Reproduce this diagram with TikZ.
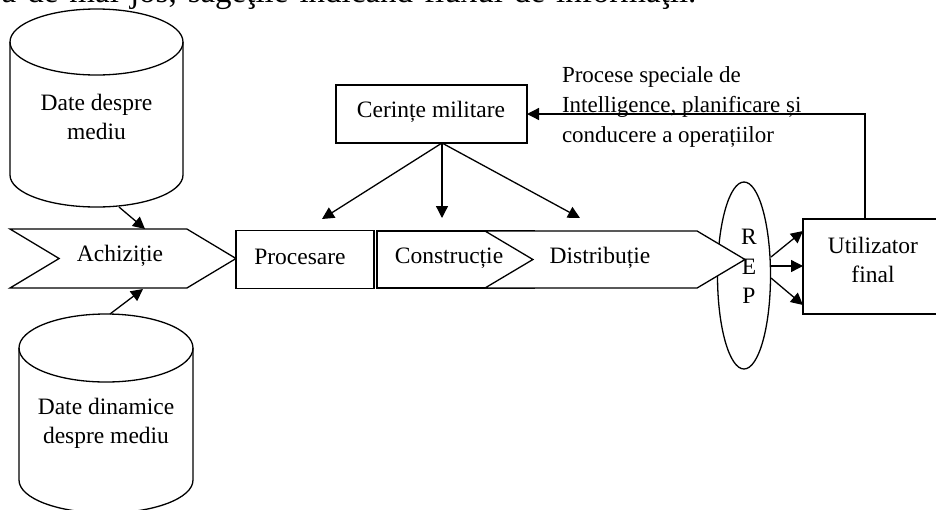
\documentclass[tikz,border=0pt]{standalone}
\usepackage{fontspec}
\setmainfont{Liberation Serif}
\usetikzlibrary{shapes.geometric,shapes.symbols,arrows.meta}
\tikzset{
  x=1pt,y=-1pt,
  lbl/.style={font=\fontsize{23.5}{29}\selectfont,align=center,inner sep=0pt,outer sep=0pt},
  lefttxt/.style={font=\fontsize{23}{30}\selectfont,align=left,inner sep=0pt,outer sep=0pt},
  box/.style={draw,fill=white,inner sep=0pt,outer sep=0pt,anchor=north west},
  cylframe/.style={inner sep=0pt,outer sep=0pt,minimum width=173pt},
  sig/.style={draw,fill=white,shape=signal,signal from=west,signal to=east,signal pointer angle=62,
    minimum height=59pt,inner sep=0pt,outer sep=0pt},
  arr/.style={-{Triangle[length=12pt,width=12pt]}},
}
\begin{document}
\begin{tikzpicture}[line width=1.3pt]
\useasboundingbox (0,0) rectangle (936,509);
\clip (0,0) rectangle (936,509);
\node[font=\fontsize{33}{36}\selectfont,anchor=base east,inner sep=0pt] (top) at (697,2) {\spaceskip=11pt ă de mai jos, săgeţile indicând fluxul de informaţii.};
% cylinders
\draw (10,42) -- (10,175) arc[start angle=180,end angle=360,x radius=86.5pt,y radius=32pt] -- (183,42);
\draw (96.5,42) ellipse[x radius=86.5pt,y radius=33pt];
\node[cylframe,minimum height=198pt] (c1) at (96.5,108.5) {};
\node[lbl] (t1) at (96.5,117) {Date despre\\mediu};
\draw (19,348) -- (19,480) arc[start angle=180,end angle=360,x radius=87pt,y radius=33pt] -- (193,348);
\draw (106,348) ellipse[x radius=87pt,y radius=34pt];
\node[cylframe,minimum height=199pt] (c2) at (106,413.5) {};
\node[lbl] (t2) at (106,423) {Date dinamice\\despre mediu};
% ellipse
\node[draw,ellipse,minimum width=53pt,minimum height=187pt,inner sep=0pt,outer sep=0pt] (rep) at (744,275.5) {};
% chain
\node[sig,minimum width=226pt] (ach) at (123,258.5) {};
\node[lbl] (achT) at (120,256) {Achiziție};
\node[box,minimum width=138pt,minimum height=58pt] (proc) at (236,230.5) {};
\node[lbl] (procT) at (300,257) {Procesare};
\node[box,minimum width=157pt,minimum height=57pt] (con) at (377,231) {};
\node[sig,minimum width=260pt,minimum height=57pt,signal pointer angle=61.5] (dist) at (615,259.5) {};
\node[lbl] (conT) at (449,258) {Construcție};
\node[lbl] (distT) at (600,258) {Distribuție};
\node[lbl] at (749,237) (r) {R};
\node[lbl] at (749,267) (e) {E};
\node[lbl] at (749,296) (p) {P};
% others
\node[box,minimum width=191pt,minimum height=58pt] (cer) at (336,85) {};
\node[lbl] (cerT) at (431,112) {Cerințe militare};
\node[box,minimum width=145pt,minimum height=95pt] (util) at (803,219) {};
\node[lbl] (utilT) at (873,260) {Utilizator\\final};
\node[lefttxt,anchor=west] (note) at (562,107) {Procese speciale de\\Intelligence, planificare și\\conducere a operațiilor};
% connector ends
\coordinate (c1o) at (119,207);
\coordinate (achA) at (145,229);
\coordinate (c2o) at (110,314);
\coordinate (achB) at (143,289);
\coordinate (cerO) at (442,143);
\coordinate (procA) at (322,219);
\coordinate (conA) at (442,218);
\coordinate (distA) at (580,218);
\coordinate (repA) at (771,257);
\coordinate (repB) at (771,266);
\coordinate (repC) at (771,278);
\coordinate (utA) at (803,231);
\coordinate (utB) at (803,266);
\coordinate (utC) at (803,305);
\coordinate (utO) at (865,219);
\coordinate (cerI) at (527,114);
\draw[arr] (c1o) -- (achA);
\draw[arr] (c2o) -- (achB);
\draw[arr] (cerO) -- (procA);
\draw[arr] (cerO) -- (conA);
\draw[arr] (cerO) -- (distA);
\draw[arr] (repA) -- (utA);
\draw[arr] (repB) -- (utB);
\draw[arr] (repC) -- (utC);
\draw[arr] (utO) |- (cerI);
\end{tikzpicture}
\end{document}
